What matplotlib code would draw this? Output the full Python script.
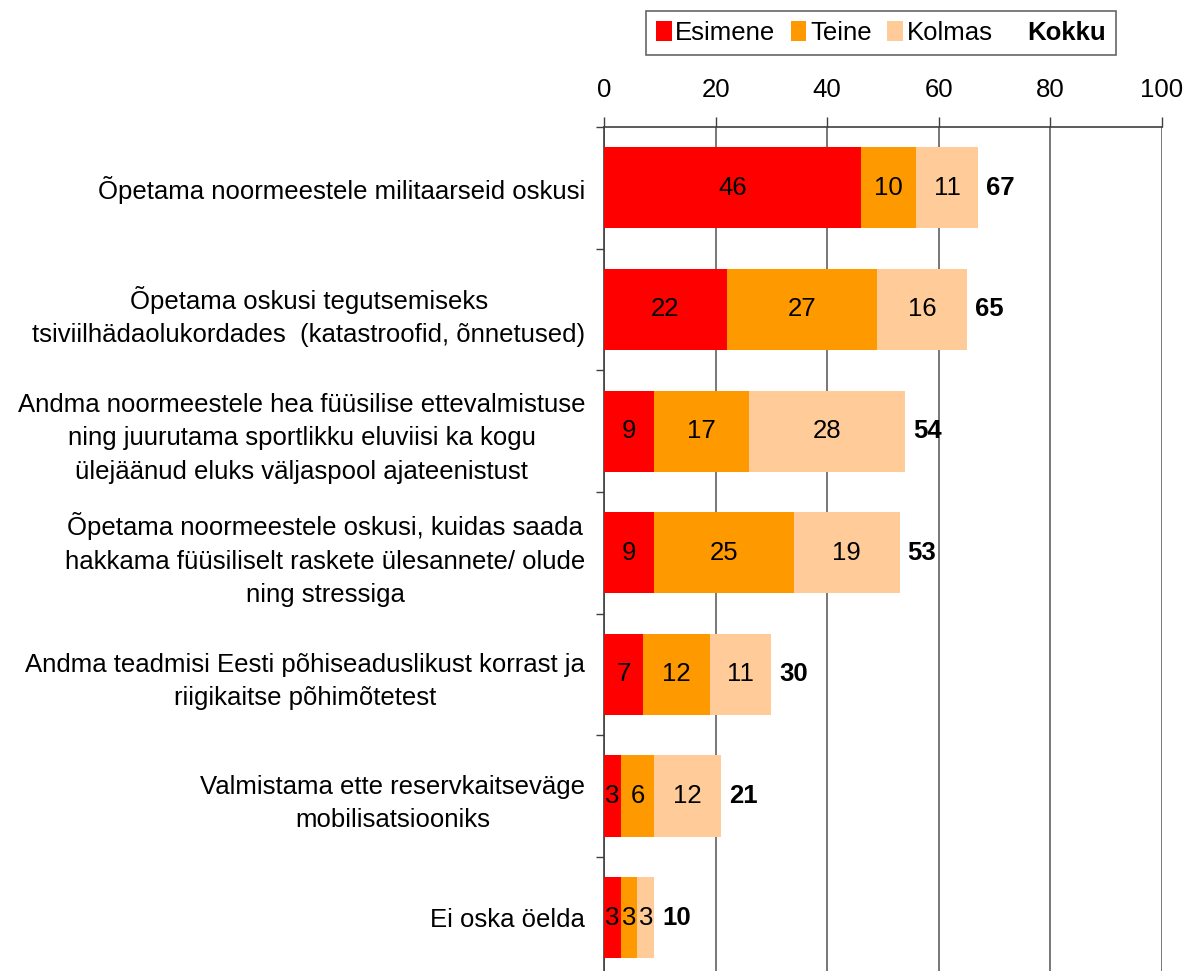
import numpy as np
import matplotlib.pyplot as plt
from matplotlib.patches import Patch

plt.rcParams['font.family'] = ['Liberation Sans', 'DejaVu Sans']

categories = [
    "Õpetama noormeestele militaarseid oskusi",
    "Õpetama oskusi tegutsemiseks\ntsiviilhädaolukordades  (katastroofid, õnnetused)",
    "Andma noormeestele hea füüsilise ettevalmistuse\nning juurutama sportlikku eluviisi ka kogu\nülejäänud eluks väljaspool ajateenistust",
    "Õpetama noormeestele oskusi, kuidas saada\nhakkama füüsiliselt raskete ülesannete/ olude\nning stressiga",
    "Andma teadmisi Eesti põhiseaduslikust korrast ja\nriigikaitse põhimõtetest",
    "Valmistama ette reservkaitseväge\nmobilisatsiooniks",
    "Ei oska öelda",
]
esimene = [46, 22, 9, 9, 7, 3, 3]
teine = [10, 27, 17, 25, 12, 6, 3]
kolmas = [11, 16, 28, 19, 11, 12, 3]
kokku = [67, 65, 54, 53, 30, 21, 10]

series = [("Esimene", esimene, "#FF0000"),
          ("Teine", teine, "#FF9900"),
          ("Kolmas", kolmas, "#FFCC99")]

FS = 18.5

fig = plt.figure(figsize=(11.86, 9.71), dpi=100)
ax = fig.add_axes([604 / 1186, -0.0077, 558 / 1186, 0.8769])

y = np.arange(len(categories))
left = np.zeros(len(categories))
for name, vals, col in series:
    vals = np.array(vals, dtype=float)
    ax.barh(y, vals, left=left, height=0.667, color=col, zorder=3)
    for yi, l, v in zip(y, left, vals):
        ax.text(l + v / 2, yi, f"{v:g}", ha="center", va="center",
                fontsize=FS, zorder=4)
    left += vals

for yi, tot, end in zip(y, kokku, left):
    ax.text(end + 1.4, yi, str(tot), ha="left", va="center",
            fontsize=FS, fontweight="bold", zorder=4)

ax.set_xlim(0, 100)
ax.set_ylim(len(categories) - 0.5, -0.5)
ax.set_xticks(np.arange(0, 101, 20))
ax.xaxis.tick_top()
ax.tick_params(axis="x", direction="out", length=7, width=1, color="#404040",
               labelsize=FS, pad=11)
ax.grid(axis="x", color="#606060", linewidth=1.2, zorder=0)

# category boundaries as minor ticks, labels at centres
ax.set_yticks(y)
ax.set_yticklabels(categories, fontsize=FS, multialignment="center",
                   linespacing=1.5)
ax.set_yticks(np.arange(len(categories)) - 0.5, minor=True)
ax.tick_params(axis="y", which="major", length=0, pad=13.5)
ax.tick_params(axis="y", which="minor", length=6, width=1, color="#404040")

for side in ["right", "bottom"]:
    ax.spines[side].set_visible(False)
for side in ["left", "top"]:
    ax.spines[side].set_color("#404040")
    ax.spines[side].set_linewidth(1.2)

handles = [Patch(facecolor=c, edgecolor="none") for _, _, c in series]
handles.append(Patch(facecolor="none", edgecolor="none"))
labels = [n for n, _, _ in series] + ["Kokku"]
leg = fig.legend(handles, labels, loc="center", bbox_to_anchor=(881 / 1186, 1 - 33 / 971),
                 ncol=4, fontsize=FS, frameon=True, fancybox=False,
                 edgecolor="#404040", handlelength=0.6, handleheight=0.8,
                 handletextpad=0.15, columnspacing=0.6, borderpad=0.4)
leg.get_frame().set_linewidth(1.2)
leg.get_texts()[-1].set_fontweight("bold")

fig.savefig("out.png", dpi=100)
